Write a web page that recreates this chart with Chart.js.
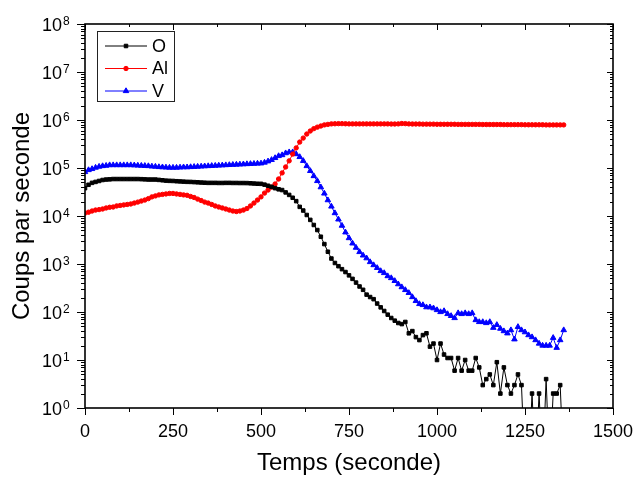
<!DOCTYPE html>
<html>
<head>
<meta charset="utf-8">
<script src="https://cdn.jsdelivr.net/npm/chart.js@4/dist/chart.umd.min.js"></script>
<style>
  html, body { margin: 0; padding: 0; background: #fff; }
</style>
</head>
<body>
<canvas id="profileChart" width="636" height="478"></canvas>
<script>
    // Prepare the data (time in s, counts per second)
    const times = [
      0, 10, 20, 30, 40, 50, 60, 70, 80, 90,
      100, 110, 120, 130, 140, 150, 160, 170, 180, 190,
      200, 210, 220, 230, 240, 250, 260, 270, 280, 290,
      300, 310, 320, 330, 340, 350, 360, 370, 380, 390,
      400, 410, 420, 430, 440, 450, 460, 470, 480, 490,
      500, 510, 520, 530, 540, 550, 560, 570, 580, 590,
      600, 610, 620, 630, 640, 650, 660, 670, 680, 690,
      700, 710, 720, 730, 740, 750, 760, 770, 780, 790,
      800, 810, 820, 830, 840, 850, 860, 870, 880, 890,
      900, 910, 920, 930, 940, 950, 960, 970, 980, 990,
      1000, 1010, 1020, 1030, 1040, 1050, 1060, 1070, 1080, 1090,
      1100, 1110, 1120, 1130, 1140, 1150, 1160, 1170, 1180, 1190,
      1200, 1210, 1220, 1230, 1240, 1250, 1260, 1270, 1280, 1290,
      1300, 1310, 1320, 1330, 1340, 1350, 1360
    ];

    const oCounts = [
      38000, 44700, 49000, 51300, 53700, 56200, 57500, 58000, 58900, 58900,
      58900, 58900, 58900, 58900, 58900, 58900, 58500, 58000, 57500, 57500,
      57500, 56500, 55500, 54500, 54000, 53700, 53000, 52500, 52000, 51500,
      51300, 50800, 50300, 49800, 49400, 49000, 49000, 49000, 48800, 48800,
      49000, 49000, 48800, 48800, 48600, 48600, 48500, 48000, 47500, 47000,
      46800, 45000, 42700, 40500, 38000, 36000, 34700, 31000, 27500, 24000,
      20400, 15500, 13000, 10500, 8300, 6500, 5100, 3700, 2600, 1800,
      1300, 1050, 900, 780, 680, 580, 490, 410, 340, 290,
      230, 205, 185, 150, 125, 105, 88, 75, 66, 59,
      56, 62, 36, 40, 30, 26, 33, 36, 19, 22,
      10, 22, 13, 11, 11, 6, 11, 6, 10, 6,
      6, 11, 7, 3, 4, 5, 3, 9, 2, 7,
      3, 2, 3, 5, 3, 0, 0, 2, 0, 2,
      0, 4, 0, 2, 2, 3, 0
    ];

    const alCounts = [
      11500, 12000, 12700, 13300, 13600, 14000, 14700, 15200, 15400, 16200,
      16600, 17000, 17400, 17800, 18600, 19500, 20500, 21500, 23000, 25000,
      26200, 27500, 28200, 28800, 29500, 29500, 28800, 28200, 27500, 27000,
      25500, 24300, 22500, 21000, 19500, 18600, 17400, 16200, 15400, 14700,
      14000, 13300, 12700, 12400, 12700, 13300, 14300, 16200, 18600, 21500,
      25000, 30000, 34700, 40000, 46400, 59000, 79000, 105000, 141000, 195000,
      262000, 347000, 420000, 510000, 590000, 660000, 710000, 750000, 790000, 810000,
      830000, 835000, 840000, 840000, 835000, 830000, 830000, 830000, 830000, 830000,
      830000, 830000, 830000, 830000, 830000, 830000, 830000, 825000, 825000, 830000,
      845000, 840000, 830000, 825000, 825000, 825000, 820000, 820000, 820000, 820000,
      815000, 815000, 815000, 815000, 815000, 815000, 810000, 810000, 810000, 810000,
      810000, 810000, 810000, 805000, 805000, 805000, 805000, 805000, 805000, 800000,
      800000, 800000, 800000, 800000, 800000, 795000, 795000, 795000, 795000, 795000,
      795000, 790000, 790000, 790000, 790000, 790000, 790000
    ];

    const vCounts = [
      82600, 90800, 95500, 102000, 107000, 110000, 112000, 115000, 115000, 115000,
      115000, 115000, 115000, 115000, 114000, 113000, 112000, 111000, 110000, 108000,
      107000, 105000, 104000, 103000, 102000, 102000, 102000, 103000, 104000, 104000,
      105000, 106000, 107000, 108000, 109000, 110000, 111000, 112000, 113000, 114000,
      115000, 116000, 117000, 118000, 119000, 120000, 121000, 122000, 123000, 124000,
      125000, 130000, 138000, 148000, 162000, 178000, 186000, 204000, 214000, 214000,
      195000, 170000, 141000, 110000, 87000, 68000, 53700, 39800, 29500, 21400,
      15800, 11500, 8500, 6300, 4570, 3470, 2690, 2190, 1780, 1510,
      1320, 1100, 950, 830, 715, 650, 560, 510, 445, 380,
      330, 288, 250, 205, 170, 147, 140, 126, 126, 120,
      110, 100, 105, 91, 83, 75, 95, 91, 95, 91,
      95, 68, 62, 62, 59, 62, 47, 54, 45, 40,
      36, 42, 27, 49, 42, 38, 33, 30, 26, 22,
      20, 20, 20, 29, 18, 26, 42
    ];

    const seriesNames = ['O', 'Al', 'V'];
    const seriesColors = ['#000000', '#ff0000', '#0000ff'];
    const seriesMarkers = ['rect', 'circle', 'triangle'];
    const markerSizes = [2.5, 2.2, 3.2];

    const xTickStep = 250;
    const yDecades = [1, 10, 100, 1e3, 1e4, 1e5, 1e6, 1e7, 1e8];

    const FONT = '"Liberation Sans", Arial, Helvetica, sans-serif';

    // zero counts sit below the log axis, so push them under the floor (clipped)
    const belowFloor = (v) => (v === 0 ? 0.05 : v);

    function makeDataset(i, values) {
      return {
        label: seriesNames[i],
        data: values.map(belowFloor),
        borderColor: seriesColors[i],
        backgroundColor: seriesColors[i],
        borderWidth: 1,
        pointStyle: seriesMarkers[i],
        pointRadius: (c) => (values[c.dataIndex] === 0 ? 0 : markerSizes[i]),
        pointBorderWidth: 1,
        pointBackgroundColor: seriesColors[i],
        pointBorderColor: seriesColors[i],
        tension: 0
      };
    }

    // frame, tick marks, y labels with exponents and the boxed legend
    const framePlugin = {
      id: 'frame',
      afterDraw(chart) {
        const { ctx, chartArea: a, scales: { x, y } } = chart;
        ctx.save();
        ctx.strokeStyle = '#000';
        ctx.lineWidth = 1;
        ctx.beginPath();
        for (let t = 0; t <= 1500; t += xTickStep / 2) {
          const px = Math.round(x.getPixelForValue(t)) + 0.5;
          const major = t % xTickStep === 0;
          ctx.moveTo(px, a.bottom); ctx.lineTo(px, a.bottom + (major ? 7 : 4));
          ctx.moveTo(px, a.top); ctx.lineTo(px, a.top + (major ? 6 : 3));
        }
        for (let e = 0; e < yDecades.length; e++) {
          for (let m = 1; m <= 9; m++) {
            if (e === yDecades.length - 1 && m > 1) break;
            const py = Math.round(y.getPixelForValue(yDecades[e] * m)) + 0.5;
            const major = m === 1;
            ctx.moveTo(a.left, py); ctx.lineTo(a.left - (major ? 8 : 4), py);
            ctx.moveTo(a.right, py); ctx.lineTo(a.right - (major ? 6 : 3), py);
          }
        }
        ctx.stroke();

        ctx.lineWidth = 1.6;
        ctx.strokeRect(a.left, a.top, a.right - a.left, a.bottom - a.top);

        // y tick labels: 10 with superscript exponent
        ctx.fillStyle = '#000';
        ctx.textBaseline = 'alphabetic';
        yDecades.forEach((v, e) => {
          const py = y.getPixelForValue(v);
          ctx.font = '18px ' + FONT;
          ctx.textAlign = 'right';
          ctx.fillText('10', a.left - 23, py + 7);
          ctx.font = '12px ' + FONT;
          ctx.textAlign = 'left';
          ctx.fillText(String(e), a.left - 22, py + 1);
        });

        // legend box
        const lx = 97, ly = 31, lw = 77, lh = 70;
        ctx.lineWidth = 1;
        ctx.strokeStyle = '#222';
        ctx.strokeRect(lx + 0.5, ly + 0.5, lw, lh);
        seriesNames.forEach((name, i) => {
          const ry = ly + 15 + i * 22.5;
          ctx.strokeStyle = seriesColors[i];
          ctx.fillStyle = seriesColors[i];
          ctx.beginPath();
          ctx.moveTo(lx + 8, ry); ctx.lineTo(lx + 50, ry);
          ctx.stroke();
          Chart.helpers.drawPoint(ctx, {
            pointStyle: seriesMarkers[i], radius: markerSizes[i], rotation: 0, borderWidth: 1
          }, lx + 29, ry);
          ctx.fillStyle = '#000';
          ctx.font = '18px ' + FONT;
          ctx.textAlign = 'left';
          ctx.textBaseline = 'middle';
          ctx.fillText(name, lx + 55, ry + 1);
        });
        ctx.restore();
      }
    };

    // Create the chart
    const ctx = document.getElementById('profileChart').getContext('2d');
    new Chart(ctx, {
      type: 'line',
      data: {
        labels: times,
        datasets: [
          makeDataset(0, oCounts),
          makeDataset(1, alCounts),
          makeDataset(2, vCounts)
        ]
      },
      options: {
        responsive: false,
        animation: false,
        layout: { autoPadding: false, padding: { top: 24, right: 23, left: 0, bottom: 0 } },
        plugins: {
          legend: { display: false },
          tooltip: { enabled: false }
        },
        scales: {
          x: {
            type: 'linear',
            min: 0,
            max: 1500,
            ticks: {
              stepSize: xTickStep,
              color: '#000',
              font: { family: FONT, size: 18 },
              padding: 7,
              maxRotation: 0,
              callback: (v) => String(v)
            },
            grid: { display: false, drawTicks: true, tickLength: 6 },
            border: { display: false },
            title: {
              display: true,
              text: 'Temps (seconde)',
              color: '#000',
              font: { family: FONT, size: 24 },
              padding: { top: 0, bottom: 0 }
            },
            afterFit: (s) => {
              s.height = 70;
              s.paddingLeft = 0;
              s.paddingRight = 0;
            }
          },
          y: {
            type: 'logarithmic',
            min: 1,
            max: 1e8,
            afterBuildTicks: (s) => { s.ticks = yDecades.map((v) => ({ value: v })); },
            ticks: { display: false },
            grid: { display: false },
            border: { display: false },
            title: {
              display: true,
              text: 'Coups par seconde',
              color: '#000',
              font: { family: FONT, size: 24 },
              padding: { top: 8, bottom: 0 }
            },
            afterFit: (s) => {
              s.width = 85;
              s.paddingTop = 0;
              s.paddingBottom = 0;
            }
          }
        }
      },
      plugins: [framePlugin]
    });
</script>
</body>
</html>
